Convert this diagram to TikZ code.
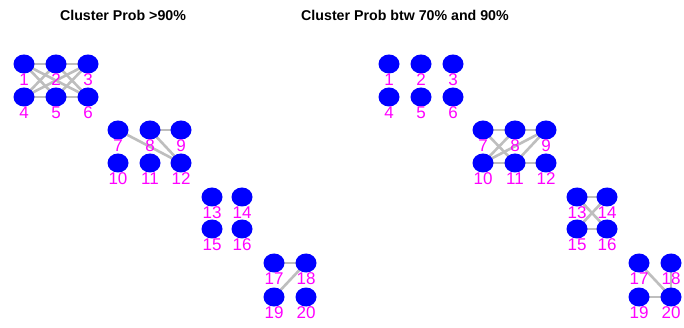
\documentclass[tikz,border=0pt]{standalone}
\usepackage{fontspec}
\setmainfont{Liberation Sans}
\usetikzlibrary{shapes.geometric}
\definecolor{vblue}{RGB}{0,0,255}
\definecolor{vmag}{RGB}{255,0,255}
\definecolor{egray}{RGB}{190,190,190}
\tikzset{
  vtx/.style={ellipse, fill=vblue, draw=none, minimum width=21pt, minimum height=19pt, inner sep=0pt},
  vlab/.style={text=vmag, font=\fontsize{17}{17}\selectfont, inner sep=0pt, anchor=center},
  edge/.style={draw=egray, line width=2.6pt},
  ttl/.style={font=\fontsize{14.2}{14}\selectfont\bfseries, inner sep=0pt},
}
\begin{document}
\begin{tikzpicture}
\useasboundingbox (0,0) rectangle (684pt,-328pt);
\fill[white] (0,0) rectangle (684pt,-328pt);

% titles
\node[ttl] (tl) at (123pt,-15pt) {Cluster Prob >90\%};
\node[ttl] (tr) at (405pt,-15pt) {Cluster Prob btw 70\% and 90\%};

% vertex positions for both panels (right panel shifted by 365pt)
\foreach \p/\dx in {L/0,R/365}{
  \foreach \i/\x/\y in {1/24/64,2/56/64,3/88/64,4/24/97,5/56/97,6/88/97,
                        7/118/130,8/150/130,9/181/130,10/118/163,11/150/163,12/181/163,
                        13/212/197,14/242/197,15/212/229,16/242/229,
                        17/274/263,18/306/263,19/274/297,20/306/297}{
    \pgfmathsetmacro{\xx}{\x+\dx}
    \coordinate (\p\i c) at (\xx pt,-\y pt);
  }
}

% edges, left panel
\foreach \a/\b in {1/2,2/3,4/5,5/6,1/5,2/4,2/6,3/5,1/6,3/4,
                   8/9,7/12,8/12,
                   17/18,18/19}{
  \draw[edge] (L\a c) -- (L\b c);
}
% edges, right panel
\foreach \a/\b in {7/8,8/9,10/11,11/12,7/11,10/8,10/9,11/9,
                   13/14,15/16,13/16,14/15,
                   17/20,19/20,18/20}{
  \draw[edge] (R\a c) -- (R\b c);
}

% vertices, then their labels on top
\foreach \p in {L,R}{
  \foreach \i in {1,...,20}{
    \node[vtx] (\p\i) at (\p\i c) {};
  }
  \foreach \i in {1,...,20}{
    \node[vlab, yshift=-16pt] (\p\i t) at (\p\i c) {\i};
  }
}
\end{tikzpicture}
\end{document}
